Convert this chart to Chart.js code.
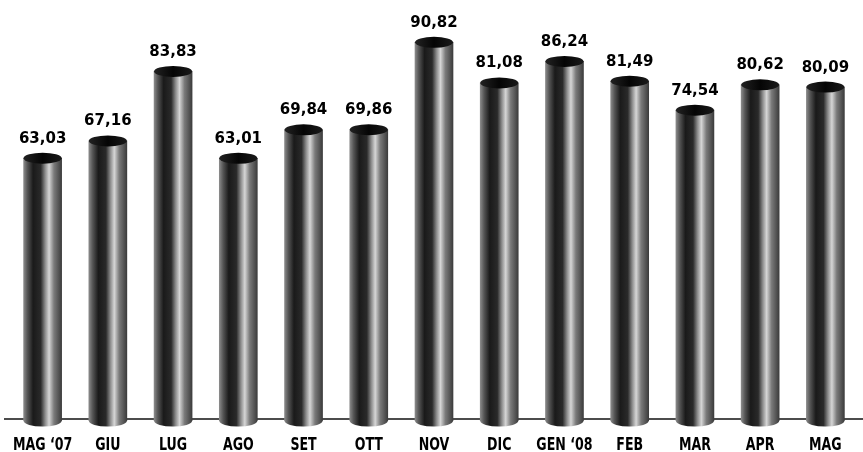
<!DOCTYPE html>
<html>
<head>
<meta charset="utf-8">
<script src="https://cdn.jsdelivr.net/npm/chart.js@4.4.1/dist/chart.umd.min.js"></script>
<style>
  html, body { margin: 0; padding: 0; background: #fff; }
  #wrap { width: 863px; height: 452px; }
</style>
</head>
<body>
<div id="wrap"><canvas id="chartjs-0" width="863" height="452"></canvas></div>
<script>
// months (May 2007 - May 2008) and values
var months = ["MAG \u201807", "GIU", "LUG", "AGO", "SET", "OTT", "NOV", "DIC", "GEN \u201808", "FEB", "MAR", "APR", "MAG"];
var values = [63.03, 67.16, 83.83, 63.01, 69.84, 69.86, 90.82, 81.08, 86.24, 81.49, 74.54, 80.62, 80.09];
var valueLabels = ["63,03", "67,16", "83,83", "63,01", "69,84", "69,86", "90,82", "81,08", "86,24", "81,49", "74,54", "80,62", "80,09"];

var BAR_W = 38;
var CAP_RY = 5.5;

/* horizontal gradient that fakes the shaded cylinder */
function cylGradient(ctx, cx, w) {
    var g = ctx.createLinearGradient(cx - w / 2, 0, cx + w / 2, 0);
    g.addColorStop(0.00, "#8a8a8a");
    g.addColorStop(0.10, "#555555");
    g.addColorStop(0.25, "#1a1a1a");
    g.addColorStop(0.45, "#2a2a2a");
    g.addColorStop(0.57, "#8e8e8e");
    g.addColorStop(0.67, "#d6d6d6");
    g.addColorStop(0.80, "#7a7a7a");
    g.addColorStop(1.00, "#3c3c3c");
    return g;
}

// baseline rule under the bars
var baseLine = {
    id: "baseLine",
    beforeDatasetsDraw: function(chart) {
        var ctx = chart.ctx;
        var y = chart.scales.y.getPixelForValue(0) - 2;
        ctx.save();
        ctx.strokeStyle = "#111";
        ctx.lineWidth = 1.5;
        ctx.beginPath();
        ctx.moveTo(4, y);
        ctx.lineTo(chart.width, y);
        ctx.stroke();
        ctx.restore();
    }
};

// top caps, rounded bottoms, value labels and month labels
var cylinders = {
    id: "cylinders",
    afterDatasetsDraw: function(chart) {
        var ctx = chart.ctx;
        var meta = chart.getDatasetMeta(0);
        var xs = chart.scales.x;
        ctx.save();
        meta.data.forEach(function(el, i) {
            var w = el.width;
            // bottom half ellipse
            ctx.fillStyle = cylGradient(ctx, el.x, w);
            ctx.beginPath();
            ctx.ellipse(el.x, el.base, w / 2, CAP_RY, 0, 0, Math.PI);
            ctx.fill();
            // dark top cap
            var cg = ctx.createLinearGradient(el.x - w / 2, 0, el.x + w / 2, 0);
            cg.addColorStop(0, "#222");
            cg.addColorStop(0.5, "#050505");
            cg.addColorStop(1, "#1a1a1a");
            ctx.fillStyle = cg;
            ctx.beginPath();
            ctx.ellipse(el.x, el.y, w / 2, CAP_RY, 0, 0, Math.PI * 2);
            ctx.fill();
            // value label
            ctx.fillStyle = "#000";
            ctx.font = "bold 15px 'DejaVu Sans', sans-serif";
            ctx.textAlign = "center";
            ctx.textBaseline = "alphabetic";
            ctx.fillText(valueLabels[i], el.x, el.y - CAP_RY - 10);
        });
        // month labels, squeezed like the condensed newspaper face
        months.forEach(function(m, i) {
            var x = xs.getPixelForTick(i);
            ctx.save();
            ctx.translate(x, 450);
            ctx.scale(0.7, 1);
            ctx.fillStyle = "#000";
            ctx.font = "bold 18px 'DejaVu Sans', sans-serif";
            ctx.textAlign = "center";
            ctx.textBaseline = "alphabetic";
            ctx.fillText(m, 0, 0);
            ctx.restore();
        });
        ctx.restore();
    }
};

var ctx0 = document.getElementById("chartjs-0");
var myChart0 = new Chart(ctx0, {
    type: "bar",
    data: {
        labels: months,
        datasets: [{
            data: values,
            barThickness: BAR_W,
            borderWidth: 0,
            backgroundColor: function(context) {
                var chart = context.chart;
                if (!chart.scales || !chart.scales.x) return "#555";
                var cx = chart.scales.x.getPixelForValue(context.dataIndex);
                if (!isFinite(cx)) return "#555";
                return cylGradient(chart.ctx, cx, BAR_W);
            }
        }]
    },
    options: {
        responsive: false,
        animation: false,
        layout: { padding: { top: 4, left: 10, right: 5, bottom: 0 } },
        plugins: {
            legend: { display: false },
            tooltip: { enabled: false }
        },
        scales: {
            x: {
                grid: { display: false, drawTicks: false },
                border: { display: false },
                afterFit: function(scale) { scale.height = 31; },
                ticks: { display: false }
            },
            y: {
                display: false,
                min: 0,
                max: 100
            }
        }
    },
    plugins: [baseLine, cylinders]
});
</script>
</body>
</html>
